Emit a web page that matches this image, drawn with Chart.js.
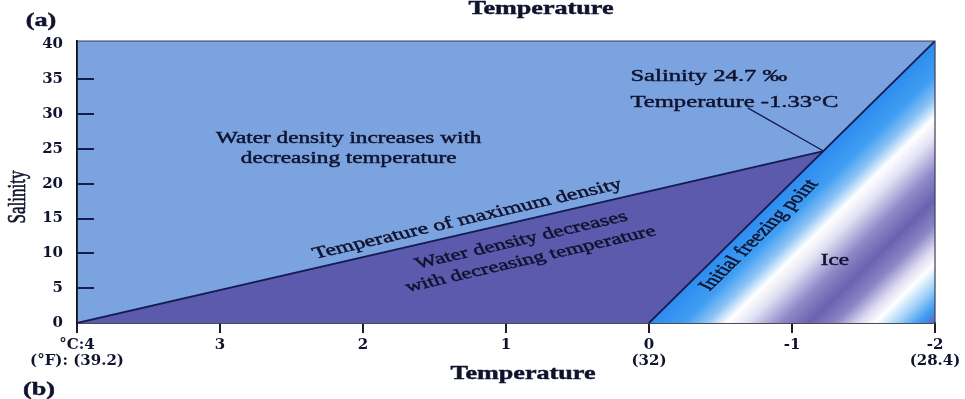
<!DOCTYPE html>
<html>
<head>
<meta charset="utf-8">
<script src="https://cdn.jsdelivr.net/npm/chart.js@4.4.1/dist/chart.umd.min.js"></script>
<style>
  html, body { margin: 0; padding: 0; background: #fff; }
</style>
</head>
<body>
<canvas id="phase" width="965" height="399"></canvas>
<script>
// temperature in °C (the axis runs from 4 down to -2), salinity in per mille
const tempTicks = [4, 3, 2, 1, 0, -1, -2];
const fahrenheitTicks = ['(°F): (39.2)', '', '', '', '(32)', '', '(28.4)'];
const salinityTicks = [0, 5, 10, 15, 20, 25, 30, 35, 40];

const maxDensityTemp = [4, -1.22];
const maxDensitySal = [0, 24.7];
const freezingTemp = [0, -2];
const freezingSal = [0, 40.5];
const extensionTemp = [-1.22, -2];
const extensionSal = [24.7, 28.7];
const leaderTemp = [-0.69, -1.22];
const leaderSal = [30.9, 24.7];

const STRETCH = 1.45;   // the source picture is squashed wide
const INK = '#10132e';
const LINE = '#141c52';

function pts(xs, ys) {
  return xs.map((x, i) => ({ x: x, y: ys[i] }));
}

// ice wedge shading, banded across the freezing line
function iceFill(context) {
  const chart = context.chart;
  const xs = chart.scales.x, ys = chart.scales.y;
  if (!chart.chartArea || !xs || !ys) return '#8f8ad0';
  const x0 = xs.getPixelForValue(freezingTemp[0]), y0 = ys.getPixelForValue(freezingSal[0]);
  const x1 = xs.getPixelForValue(freezingTemp[1]), y1 = ys.getPixelForValue(freezingSal[1]);
  const nx = -(y1 - y0), ny = x1 - x0;
  const len = Math.hypot(nx, ny);
  const d = ((x1 - x0) * nx) / len;
  const g = chart.ctx.createLinearGradient(x0, y0, x0 + nx / len * d, y0 + ny / len * d);
  g.addColorStop(0, '#2d8cef');
  g.addColorStop(0.12, '#3f9df2');
  g.addColorStop(0.2, '#8cc3f6');
  g.addColorStop(0.27, '#ffffff');
  g.addColorStop(0.34, '#e4e3f5');
  g.addColorStop(0.46, '#8f88c8');
  g.addColorStop(0.56, '#6a62b0');
  g.addColorStop(0.65, '#8b85c4');
  g.addColorStop(0.73, '#dad8ef');
  g.addColorStop(0.79, '#ffffff');
  g.addColorStop(0.87, '#9fd0f8');
  g.addColorStop(0.94, '#3f9df2');
  g.addColorStop(1, '#5a66c0');
  return g;
}

function stretchedText(ctx, lines, x, y, o) {
  ctx.save();
  ctx.translate(x, y);
  ctx.scale(STRETCH, 1);
  if (o.angle) ctx.rotate(o.angle);
  ctx.font = (o.weight || 'normal') + ' ' + o.size + 'px "Liberation Serif"';
  ctx.fillStyle = o.color || INK;
  ctx.strokeStyle = o.color || INK;
  ctx.lineWidth = 0.45;
  ctx.textAlign = o.align || 'center';
  ctx.textBaseline = 'middle';
  const lh = o.lineHeight || o.size * 1.25;
  const off = (lines.length - 1) * lh / 2;
  lines.forEach((l, i) => {
    ctx.fillText(l, 0, i * lh - off);
    ctx.strokeText(l, 0, i * lh - off);
  });
  ctx.restore();
}

// angle (for stretched drawing) of a line given in data values
function lineAngle(chart, xs, ys) {
  const sx = chart.scales.x, sy = chart.scales.y;
  const dx = sx.getPixelForValue(xs[xs.length - 1]) - sx.getPixelForValue(xs[0]);
  const dy = sy.getPixelForValue(ys[ys.length - 1]) - sy.getPixelForValue(ys[0]);
  return Math.atan2(STRETCH * dy, dx);
}

const notes = [
  { lines: ['Water density increases with', 'decreasing temperature'], t: 2.1, s: 25, size: 16 },
  { lines: ['Temperature of maximum density'], t: 1.27, s: 14.9, size: 16.5, along: 'max' },
  { lines: ['Water density decreases', 'with decreasing temperature'], t: 0.86, s: 10.5, size: 16, along: 'max' },
  { lines: ['Initial freezing point'], t: -0.77, s: 12.6, size: 16, along: 'freeze' },
  { lines: ['Ice'], t: -1.3, s: 9, size: 16 },
  { lines: ['Salinity 24.7 ‰', 'Temperature -1.33°C'], t: 0.13, s: 33.6, size: 17, align: 'left', lineHeight: 26 }
];

const decor = {
  id: 'decor',
  beforeDraw(chart) {
    const { ctx, chartArea: a } = chart;
    ctx.save();
    ctx.fillStyle = '#7ba3e0';
    ctx.fillRect(a.left, a.top, a.right - a.left, a.bottom - a.top);
    ctx.restore();
  },
  afterDatasetsDraw(chart) {
    const { ctx, chartArea: a } = chart;
    const sx = chart.scales.x, sy = chart.scales.y;

    // frame
    ctx.save();
    ctx.strokeStyle = '#3a3f55';
    ctx.lineWidth = 1.2;
    ctx.beginPath();
    ctx.moveTo(a.left, a.top);
    ctx.lineTo(a.right, a.top);
    ctx.lineTo(a.right, a.bottom);
    ctx.stroke();

    // salinity ticks point inward
    ctx.strokeStyle = LINE;
    ctx.lineWidth = 2;
    salinityTicks.slice(1, -1).forEach(v => {
      const y = Math.round(sy.getPixelForValue(v));
      ctx.beginPath();
      ctx.moveTo(a.left, y);
      ctx.lineTo(a.left + 17, y);
      ctx.stroke();
    });
    ctx.restore();

    notes.forEach(n => {
      let angle = 0;
      if (n.along === 'max') angle = lineAngle(chart, maxDensityTemp, maxDensitySal);
      if (n.along === 'freeze') angle = lineAngle(chart, freezingTemp, freezingSal);
      stretchedText(ctx, n.lines, sx.getPixelForValue(n.t), sy.getPixelForValue(n.s), {
        size: n.size, angle: angle, align: n.align, lineHeight: n.lineHeight
      });
    });

    // titles and panel letters
    stretchedText(ctx, ['Temperature'], 523, 374, { size: 18, weight: 'bold' });
    stretchedText(ctx, ['Temperature'], 541, 9, { size: 18, weight: 'bold' });
    stretchedText(ctx, ['(a)'], 41, 21, { size: 18, weight: 'bold' });
    stretchedText(ctx, ['(b)'], 39, 390, { size: 18, weight: 'bold' });
    stretchedText(ctx, ['Salinity'], 19, 197, { size: 17, angle: -Math.PI / 2 });
  }
};

new Chart(document.getElementById('phase'), {
  type: 'line',
  data: {
    datasets: [
      {
        label: 'Initial freezing point',
        data: pts(freezingTemp, freezingSal),
        borderColor: LINE,
        borderWidth: 1.8,
        backgroundColor: iceFill,
        fill: 'origin',
        pointRadius: 0
      },
      {
        label: 'Temperature of maximum density',
        data: pts(maxDensityTemp, maxDensitySal),
        borderColor: LINE,
        borderWidth: 1.8,
        backgroundColor: '#5b5aad',
        fill: 'origin',
        pointRadius: 0
      },
      {
        label: 'extension',
        data: pts(extensionTemp, extensionSal),
        borderColor: LINE,
        borderWidth: 1.6,
        borderDash: [8, 6],
        fill: false,
        pointRadius: 0
      },
      {
        label: 'leader',
        data: pts(leaderTemp, leaderSal),
        borderColor: LINE,
        borderWidth: 1.4,
        fill: false,
        pointRadius: 0
      }
    ]
  },
  options: {
    responsive: false,
    animation: false,
    layout: { padding: { left: 0, right: 30, top: 41, bottom: 0 } },
    plugins: { legend: { display: false }, tooltip: { enabled: false } },
    scales: {
      x: {
        type: 'linear',
        reverse: true,
        min: -2,
        max: 4,
        afterBuildTicks: scale => { scale.ticks = tempTicks.map(v => ({ value: v })); },
        afterFit: scale => { scale.height = 76; },
        ticks: {
          autoSkip: false,
          maxRotation: 0,
          padding: 4,
          color: INK,
          font: { family: 'DejaVu Serif', size: 15, weight: 'bold', lineHeight: 1.05 },
          callback: (v, i) => {
            const first = (i === 0 ? '°C:' : '') + v;
            return fahrenheitTicks[i] ? [first, fahrenheitTicks[i]] : first;
          }
        },
        grid: { drawOnChartArea: false, tickLength: 10, color: '#1e1e30', lineWidth: 2 },
        border: { color: '#111', width: 1.8 }
      },
      y: {
        type: 'linear',
        min: 0,
        max: 40.5,
        afterBuildTicks: scale => { scale.ticks = salinityTicks.map(v => ({ value: v })); },
        afterFit: scale => { scale.width = 77; },
        ticks: {
          padding: 6,
          color: INK,
          font: { family: 'DejaVu Serif', size: 15, weight: 'bold' }
        },
        grid: { display: false },
        border: { color: '#111', width: 1.8 }
      }
    }
  },
  plugins: [decor]
});
</script>
</body>
</html>
